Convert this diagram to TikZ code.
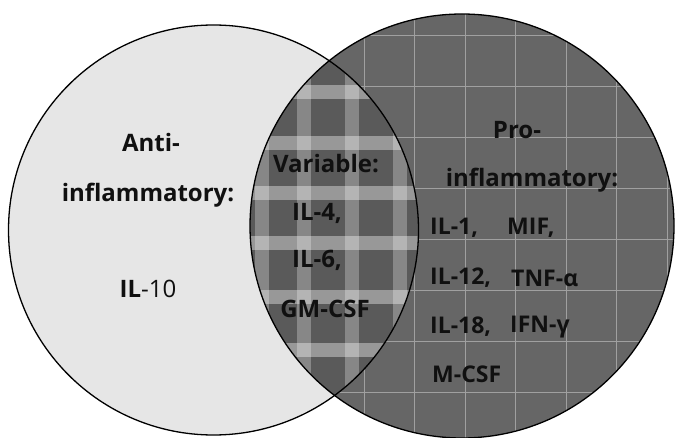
\documentclass[tikz,border=0pt]{standalone}
\usepackage{fontspec}
\setmainfont{Open Sans}
\definecolor{leftfill}{HTML}{E6E6E6}
\definecolor{rightfill}{HTML}{666666}
\definecolor{midfill}{HTML}{5A5A5A}
\definecolor{gridcol}{HTML}{A0A0A0}
\definecolor{ink}{HTML}{101010}
\begin{document}
\begin{tikzpicture}[x=1pt,y=-1pt,
  lbl/.style={font=\fontsize{24}{28}\selectfont\bfseries, text=ink, inner sep=0pt},
  lblr/.style={font=\fontsize{23}{27}\selectfont\bfseries, text=ink, inner sep=0pt, anchor=west},
  gridline/.style={draw=gridcol, line width=0.7pt},
  outline/.style={draw=black, line width=1.3pt}]
\useasboundingbox (0,0) rectangle (677,438);
\fill[white] (0,0) rectangle (677,438);
\coordinate (cL) at (213.5,230);
\coordinate (cR) at (462,226);
% left set
\fill[leftfill] (cL) circle[radius=205];
% right set
\fill[rightfill] (cR) circle[radius=212];
\begin{scope}
  \clip (cR) circle[radius=212];
  \foreach \x in {364,414.5,465,515.5,566,616.5,667}
    \draw[gridline] (\x,0) -- (\x,438);
  \foreach \y in {35,86,137,188,239,290,341,392}
    \draw[gridline] (0,\y) -- (677,\y);
\end{scope}
% intersection (gingham)
\begin{scope}
  \clip (cL) circle[radius=205];
  \clip (cR) circle[radius=212];
  \fill[midfill] (240,40) rectangle (430,420);
  \foreach \y in {92,143,193,243,297,350}
    \fill[white, opacity=0.38] (240,\y-7) rectangle (430,\y+7);
  \foreach \x in {262,304,352,400}
    \fill[white, opacity=0.28] (\x-7,40) rectangle (\x+7,420);
\end{scope}
% outlines
\draw[outline] (cL) circle[radius=205];
\draw[outline] (cR) circle[radius=212];
% left labels
\node[lbl] (anti) at (151,143) {Anti-};
\node[lbl] (antiinf) at (148,195) {inflammatory:};
\node[lbl] (il10) at (148,289) {IL\mdseries-10};
% middle labels
\node[lbl] (var) at (326,164) {Variable:};
\node[lbl] (il4) at (317,213) {IL-4,};
\node[lbl] (il6) at (317,260) {IL-6,};
\node[lbl] (gmcsf) at (325,309) {GM-CSF};
% right labels
\node[lbl] (pro) at (517,130) {Pro-};
\node[lbl] (proinf) at (532,180) {inflammatory:};
\node[lblr] (il1) at (430,228) {IL-1,};
\node[lblr] (mif) at (507,228) {MIF,};
\node[lblr] (il12) at (430,278) {IL-12,};
\node[lblr] (tnf) at (511,278) {TNF-α};
\node[lblr] (il18) at (430,327) {IL-18,};
\node[lblr] (ifn) at (510,327) {IFN-γ};
\node[lblr] (mcsf) at (432,374) {M-CSF};
\end{tikzpicture}
\end{document}
